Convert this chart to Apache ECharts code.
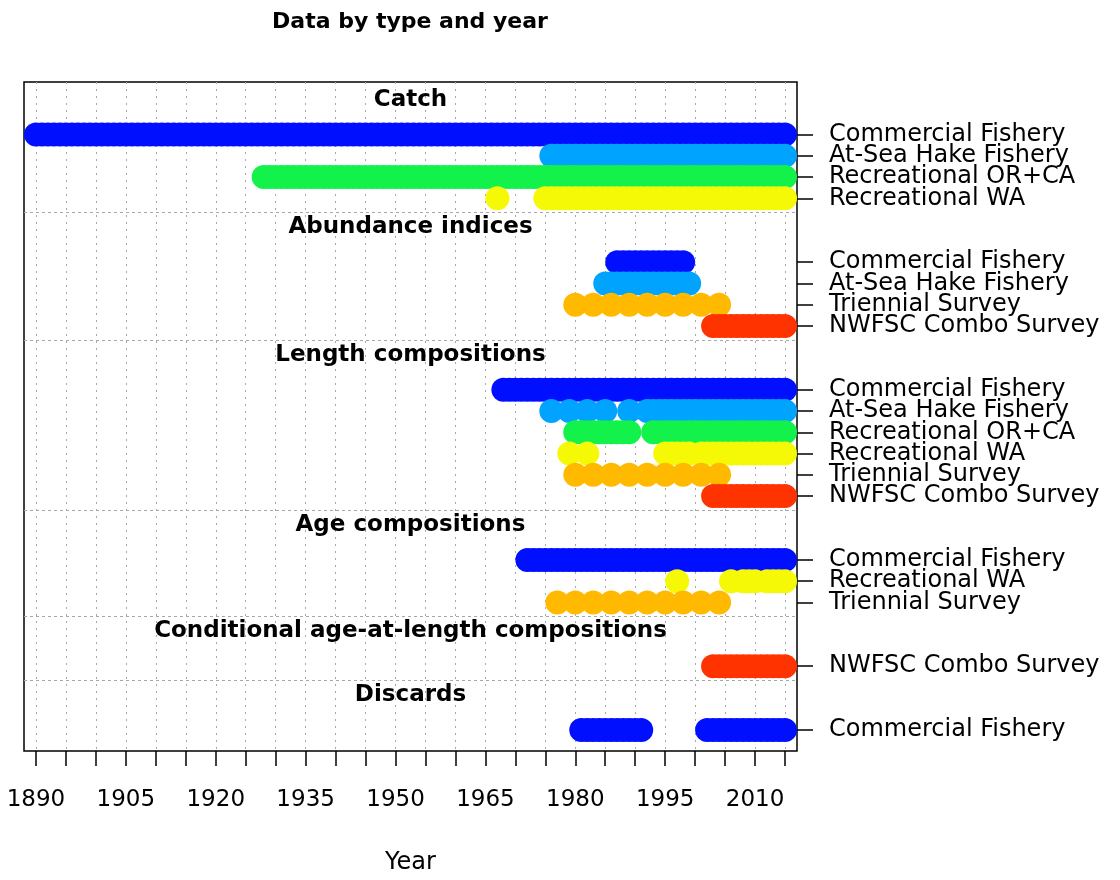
<!DOCTYPE html>
<html>
<head>
<meta charset="utf-8">
<title>Data by type and year</title>
<script src="https://cdn.jsdelivr.net/npm/echarts@6/dist/echarts.min.js"></script>
<style>
  html, body { margin: 0; padding: 0; background: #fff; }
  #chart { width: 1120px; height: 880px; }
</style>
</head>
<body>
<div id="chart"></div>
<script>
const fleetNames = ['Commercial Fishery', 'At-Sea Hake Fishery', 'Recreational OR+CA',
  'Recreational WA', 'Triennial Survey', 'NWFSC Combo Survey'];
const fleetColors = ['#0010FF', '#00A4FF', '#13F24A', '#F6F906', '#FFBA00', '#FF3300'];
const typeTitles = ['Catch', 'Abundance indices', 'Length compositions', 'Age compositions',
  'Conditional age-at-length compositions', 'Discards'];

// years with data: a number is one year, [a, b] is every year from a to b
const catchFleets = [0, 1, 2, 3];
const catchYears = [
  [[1890, 2015]],
  [[1976, 2015]],
  [[1928, 2015]],
  [1967, [1975, 2015]]
];

const indexFleets = [0, 1, 4, 5];
const indexYears = [
  [[1987, 1998]],
  [[1985, 1999]],
  [1980, 1983, 1986, 1989, 1992, 1995, 1998, 2001, 2004],
  [[2003, 2015]]
];

const lengthFleets = [0, 1, 2, 3, 4, 5];
const lengthYears = [
  [[1968, 2015]],
  [1976, 1979, 1982, 1985, 1989, [1992, 2015]],
  [[1980, 1989], [1993, 2015]],
  [1979, 1982, [1995, 1999], [2001, 2015]],
  [1980, 1983, 1986, 1989, 1992, 1995, 1998, 2001, 2004],
  [[2003, 2015]]
];

const ageFleets = [0, 3, 4];
const ageYears = [
  [[1972, 2015]],
  [1997, 2006, [2008, 2010], [2012, 2015]],
  [1977, 1980, 1983, 1986, 1989, 1992, 1995, 1998, 2001, 2004]
];

const condAgeFleets = [5];
const condAgeYears = [
  [[2003, 2015]]
];

const discardFleets = [0];
const discardYears = [
  [[1981, 1991], [2002, 2015]]
];

const tickYears = [1890, 1895, 1900, 1905, 1910, 1915, 1920, 1925, 1930, 1935, 1940, 1945, 1950,
  1955, 1960, 1965, 1970, 1975, 1980, 1985, 1990, 1995, 2000, 2005, 2010, 2015];
const labelYears = [1890, 1905, 1920, 1935, 1950, 1965, 1980, 1995, 2010];

const FONT = 'DejaVu Sans';
const Y_MIN = -1.47;
const Y_MAX = 29.985;

const types = [
  [catchFleets, catchYears],
  [indexFleets, indexYears],
  [lengthFleets, lengthYears],
  [ageFleets, ageYears],
  [condAgeFleets, condAgeYears],
  [discardFleets, discardYears]
];

// lay rows out top to bottom (first row is 1), 3 rows of gap between types
const points = fleetNames.map(() => []);
const rowValues = [];
const rowLabels = {};
const titleData = [];
const sepValues = [];
let row = 1;
types.forEach(([fleets, years], t) => {
  if (t > 0) sepValues.push(row - 2.33);
  titleData.push({ name: typeTitles[t], value: [1952.5, row - 1.64] });
  fleets.forEach((f, i) => {
    rowValues.push(row);
    rowLabels[row] = fleetNames[f];
    years[i].forEach(span => {
      const [a, b] = Array.isArray(span) ? span : [span, span];
      for (let y = a; y <= b; y++) points[f].push([y, row]);
    });
    row++;
  });
  row += 2;
});

// blank label at the top so echarts doesn't drop the first (overlapping) row label
const labelValues = [Y_MIN].concat(rowValues);

const series = [{
  type: 'scatter',
  data: [],
  silent: true,
  z: 1,
  markLine: {
    silent: true,
    animation: false,
    z: 1,
    symbol: ['none', 'none'],
    label: { show: false },
    data: tickYears.map(y => ({ xAxis: y, lineStyle: { type: [2, 5], color: '#a8a8a8', width: 1 } }))
      .concat(sepValues.map(v => ({ yAxis: v, lineStyle: { type: [3, 3], color: '#a8a8a8', width: 1 } })))
  }
}];

fleetNames.forEach((name, f) => {
  series.push({
    type: 'scatter',
    name: name,
    data: points[f],
    symbol: 'circle',
    symbolSize: 24,
    itemStyle: { color: fleetColors[f], opacity: 1 },
    silent: true,
    z: 2
  });
});

series.push({
  type: 'scatter',
  data: titleData,
  symbolSize: 1,
  itemStyle: { color: 'transparent' },
  silent: true,
  z: 3,
  label: {
    show: true,
    position: 'inside',
    formatter: '{b}',
    color: '#000',
    opacity: 1,
    textBorderWidth: 0,
    fontFamily: FONT,
    fontWeight: 'bold',
    fontSize: 23
  }
});

const chart = echarts.init(document.getElementById('chart'));
chart.setOption({
  animation: false,
  backgroundColor: '#fff',
  title: {
    text: 'Data by type and year',
    left: 405,
    top: 6,
    textAlign: 'center',
    textStyle: { fontFamily: FONT, fontWeight: 'bold', fontSize: 22, color: '#000' }
  },
  grid: {
    left: 24,
    right: 323,
    top: 82,
    bottom: 127,
    show: true,
    borderColor: '#000',
    borderWidth: 1.5,
    backgroundColor: 'transparent'
  },
  xAxis: {
    type: 'value',
    min: 1888,
    max: 2017,
    name: 'Year',
    nameLocation: 'middle',
    nameGap: 100,
    nameTextStyle: { fontFamily: FONT, fontSize: 24, color: '#000' },
    axisLine: { show: false, onZero: false },
    axisTick: {
      show: true,
      customValues: tickYears,
      length: 15,
      lineStyle: { color: '#000', width: 1.5 }
    },
    axisLabel: {
      customValues: labelYears,
      formatter: v => String(v),
      margin: 38,
      fontFamily: FONT,
      fontSize: 23,
      color: '#000'
    },
    splitLine: { show: false }
  },
  yAxis: {
    type: 'value',
    position: 'right',
    inverse: true,
    min: Y_MIN,
    max: Y_MAX,
    axisLine: { show: false, onZero: false },
    axisTick: {
      show: true,
      customValues: rowValues,
      length: 16,
      lineStyle: { color: '#000', width: 1.5 }
    },
    axisLabel: {
      customValues: labelValues,
      formatter: v => rowLabels[v] || ' ',
      hideOverlap: false,
      margin: 32,
      padding: [5, 0, 0, 0],
      fontFamily: FONT,
      fontSize: 24,
      color: '#000'
    },
    splitLine: { show: false }
  },
  series: series
});
</script>
</body>
</html>
